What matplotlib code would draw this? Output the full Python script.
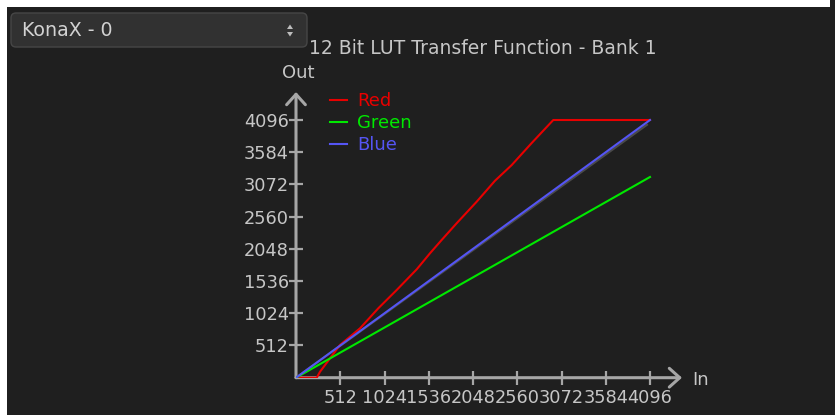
import matplotlib
matplotlib.use("Agg")
import matplotlib.pyplot as plt
from matplotlib.patches import FancyBboxPatch, Rectangle, Polygon

# LUT transfer curves (input code -> output code), 12-bit
lut_max = 4096
tick_values = [512, 1024, 1536, 2048, 2560, 3072, 3584, 4096]
tick_labels = ["512", "1024", "1536", "2048", "2560", "3072", "3584", "4096"]

red_in = [0, 240, 278, 509, 741, 952, 1165, 1397, 1550, 1686, 1859, 2091,
          2302, 2496, 2727, 2977, 4096]
red_out = [0, 0, 95, 520, 785, 1103, 1394, 1723, 1977, 2190, 2455, 2798,
           3130, 3380, 3730, 4096, 4096]

green_in = [0, 4096]
green_out = [0, 3190]

blue_in = [0, 4096]
blue_out = [0, 4096]

ref_in = [0, 4060]
ref_out = [0, 4020]

series_names = ["Red", "Green", "Blue"]
series_colors = ["#e80000", "#00e800", "#5555f5"]

W, H = 835, 415
BG = "#1f1f1f"
TXT = "#c6c6c6"
AX = "#a6a6a6"

fig = plt.figure(figsize=(W / 100, H / 100), dpi=100, facecolor=BG)


def fx(px):
    return px / W


def fy(py):
    return 1 - py / H


# white frame strips along the top and left edge
fig.add_artist(Rectangle((0, fy(7)), fx(830), 7 / H, transform=fig.transFigure,
                         facecolor="white", edgecolor="none", zorder=0))
fig.add_artist(Rectangle((0, 0), fx(7), 1, transform=fig.transFigure,
                         facecolor="white", edgecolor="none", zorder=0))

# plotting area
ox, oy = 296, 377.7
ax_w, ax_h = 386, 285.7
ax = fig.add_axes([fx(ox), fy(oy), ax_w / W, ax_h / H])
ax.set_facecolor("none")
ax.set_xlim(0, lut_max * ax_w / 354)
ax.set_ylim(0, lut_max * ax_h / 257.7)
for s in ax.spines.values():
    s.set_visible(False)

ax.set_xticks(tick_values)
ax.set_xticklabels(tick_labels)
ax.set_yticks(tick_values)
ax.set_yticklabels(tick_labels)
ax.tick_params(axis="both", direction="inout", length=10.5, width=1.6,
               color=AX, labelcolor=TXT, labelsize=12.8)
ax.tick_params(axis="x", pad=3)
ax.tick_params(axis="y", pad=0)

# axis lines with open arrowheads
arrow_kw = dict(arrowstyle="->,head_length=0.5,head_width=0.45", color=AX,
                lw=2.2, shrinkA=0, shrinkB=0, mutation_scale=15)
ax.annotate("", xy=(1, 0), xytext=(0, 0), xycoords="axes fraction",
            arrowprops=arrow_kw, annotation_clip=False, zorder=1)
ax.annotate("", xy=(0, 1), xytext=(0, 0), xycoords="axes fraction",
            arrowprops=arrow_kw, annotation_clip=False, zorder=1)

# identity reference and the three channel curves
ax.plot(ref_in, ref_out, color="#4a4a4a", lw=1.6, zorder=2)
lines = []
for xs, ys, name, col in zip([red_in, green_in, blue_in],
                             [red_out, green_out, blue_out],
                             series_names, series_colors):
    (ln,) = ax.plot(xs, ys, color=col, lw=1.5, label=name, zorder=3)
    lines.append(ln)

leg = ax.legend(handles=lines, loc="upper left",
                bbox_to_anchor=(fx(330), fy(92)), bbox_transform=fig.transFigure,
                frameon=False, fontsize=13, labelcolor="linecolor",
                handlelength=0.95, handletextpad=0.55, labelspacing=0.22,
                borderpad=0, borderaxespad=0)

fig.text(fx(282), fy(73), "Out", color=TXT, fontsize=13, ha="left", va="center")
fig.text(fx(692), fy(380), "In", color=TXT, fontsize=13, ha="left", va="center")

# title, partly tucked under the device selector
fig.text(fx(309), fy(48), "12 Bit LUT Transfer Function - Bank 1", color=TXT,
         fontsize=13.5, ha="left", va="center", zorder=1)

# device selector box
box = FancyBboxPatch((fx(11), fy(47)), fx(296), (47 - 13) / H,
                     boxstyle="round,pad=0.0,rounding_size=0.006",
                     transform=fig.transFigure, facecolor="#313131",
                     edgecolor="#464646", lw=1.0, zorder=5,
                     mutation_aspect=W / H)
fig.add_artist(box)
fig.text(fx(22), fy(31), "KonaX - 0", color="#d2d2d2", fontsize=13.7,
         ha="left", va="center", zorder=6)
up = Polygon([(fx(287), fy(29)), (fx(293), fy(29)), (fx(290), fy(24.5))],
             closed=True, transform=fig.transFigure, facecolor="#bdbdbd",
             edgecolor="none", zorder=6)
down = Polygon([(fx(287), fy(32)), (fx(293), fy(32)), (fx(290), fy(36.5))],
               closed=True, transform=fig.transFigure, facecolor="#bdbdbd",
               edgecolor="none", zorder=6)
fig.add_artist(up)
fig.add_artist(down)

fig.savefig("out.png", dpi=100, facecolor=BG)
